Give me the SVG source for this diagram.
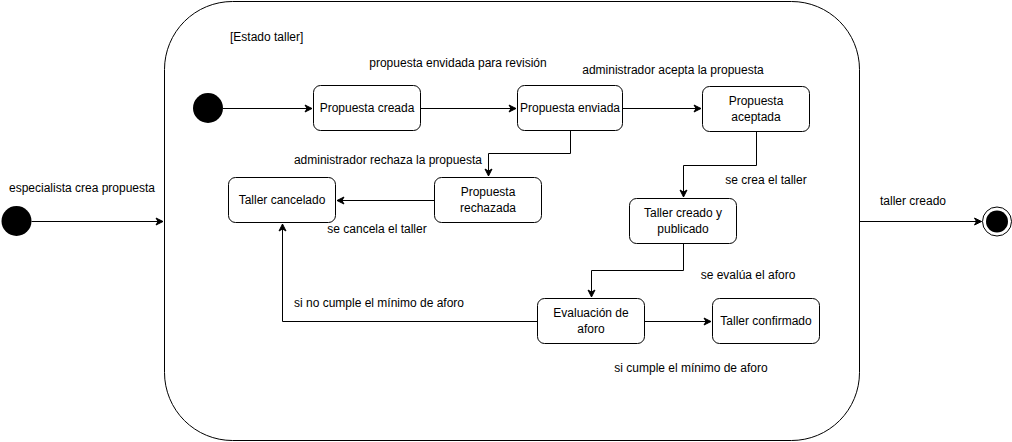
<svg xmlns="http://www.w3.org/2000/svg" width="1012" height="442" viewBox="0 0 1012 442">
<style>
.st{fill:#fff;stroke:#000;stroke-width:1}
.t{font-family:"Liberation Sans",Arial,sans-serif;font-size:12px;fill:#000}
.m{text-anchor:middle}
.c{fill:none;stroke:#000;stroke-width:1}
</style>
<defs>
<marker id="a" markerWidth="10" markerHeight="10" refX="8" refY="5" orient="auto" markerUnits="userSpaceOnUse">
<path d="M1,1.5 L8,5 L1,8.5 L3,5 Z" fill="#000" stroke="#000" stroke-width="1"/>
</marker>
</defs>
<rect width="1012" height="442" fill="#fff"/>
<g id="container">
<rect x="164.5" y="1.5" width="695" height="439" rx="68" ry="68" class="st"/>
<text x="230" y="41" class="t">[Estado taller]</text>
</g>
<g id="start-outer"><circle cx="16.5" cy="221" r="15" fill="#000"/></g>
<g id="end"><circle cx="997" cy="221.5" r="14.5" fill="#fff" stroke="#000"/><circle cx="997" cy="221.5" r="11" fill="#000"/></g>
<g id="start-inner"><circle cx="208" cy="108" r="15" fill="#000"/></g>
<g id="propuesta-creada"><rect x="313.5" y="85.5" width="107" height="45" rx="7" class="st"/><text x="367" y="112" class="t m">Propuesta creada</text></g>
<g id="propuesta-enviada"><rect x="517.5" y="85.5" width="105" height="45" rx="7" class="st"/><text x="570" y="112" class="t m">Propuesta enviada</text></g>
<g id="propuesta-aceptada"><rect x="702.5" y="86.5" width="107" height="45" rx="7" class="st"/><text x="756" y="105" class="t m">Propuesta</text><text x="756" y="121" class="t m">aceptada</text></g>
<g id="propuesta-rechazada"><rect x="434.5" y="177.5" width="107" height="45" rx="7" class="st"/><text x="488" y="196" class="t m">Propuesta</text><text x="488" y="212" class="t m">rechazada</text></g>
<g id="taller-cancelado"><rect x="228.5" y="177.5" width="107" height="45" rx="7" class="st"/><text x="282" y="204" class="t m">Taller cancelado</text></g>
<g id="taller-creado"><rect x="629.5" y="198.5" width="107" height="45" rx="7" class="st"/><text x="683" y="217" class="t m">Taller creado y</text><text x="683" y="233" class="t m">publicado</text></g>
<g id="evaluacion"><rect x="537.5" y="298.5" width="107" height="45" rx="7" class="st"/><text x="591" y="317" class="t m">Evaluación de</text><text x="591" y="333" class="t m">aforo</text></g>
<g id="taller-confirmado"><rect x="712.5" y="298.5" width="107" height="45" rx="7" class="st"/><text x="766" y="325" class="t m">Taller confirmado</text></g>
<g id="connectors">
<path d="M31.5,221.5 H163" class="c" marker-end="url(#a)"/>
<path d="M860,221.5 H981.5" class="c" marker-end="url(#a)"/>
<path d="M223,108.5 H312" class="c" marker-end="url(#a)"/>
<path d="M421,108.5 H516" class="c" marker-end="url(#a)"/>
<path d="M623,108.5 H701" class="c" marker-end="url(#a)"/>
<path d="M570.5,131 V153.5 H488.5 V176" class="c" marker-end="url(#a)"/>
<path d="M434,200.5 H337" class="c" marker-end="url(#a)"/>
<path d="M756.5,132 V165.5 H683.5 V197" class="c" marker-end="url(#a)"/>
<path d="M683.5,244 V270.5 H591.5 V297" class="c" marker-end="url(#a)"/>
<path d="M645,321.5 H711" class="c" marker-end="url(#a)"/>
<path d="M537,321.5 H282.5 V224" class="c" marker-end="url(#a)"/>
</g>
<g id="labels">
<text x="458" y="67" class="t m">propuesta envidada para revisión</text>
<text x="673" y="74" class="t m">administrador acepta la propuesta</text>
<text x="388" y="164" class="t m">administrador rechaza la propuesta</text>
<text x="377" y="233" class="t m">se cancela el taller</text>
<text x="766" y="184" class="t m">se crea el taller</text>
<text x="748" y="279" class="t m">se evalúa el aforo</text>
<text x="379" y="307" class="t m">si no cumple el mínimo de aforo</text>
<text x="691" y="372" class="t m">si cumple el mínimo de aforo</text>
<text x="82" y="192" class="t m">especialista crea propuesta</text>
<text x="913" y="205" class="t m">taller creado</text>
</g>
</svg>
